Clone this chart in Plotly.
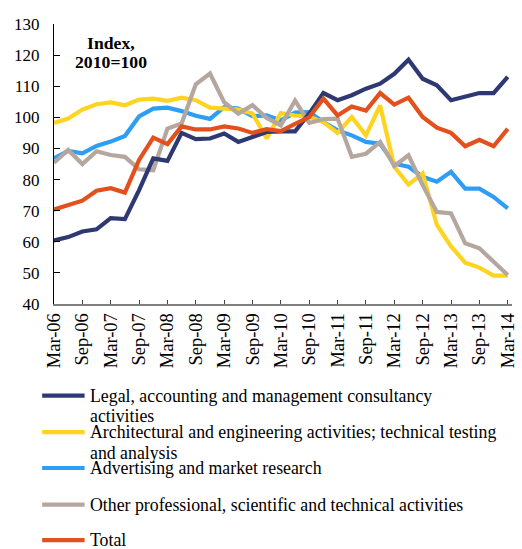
import plotly.graph_objects as go

quarters = [
    "Mar-06", "Jun-06", "Sep-06", "Dec-06", "Mar-07", "Jun-07", "Sep-07", "Dec-07",
    "Mar-08", "Jun-08", "Sep-08", "Dec-08", "Mar-09", "Jun-09", "Sep-09", "Dec-09",
    "Mar-10", "Jun-10", "Sep-10", "Dec-10", "Mar-11", "Jun-11", "Sep-11", "Dec-11",
    "Mar-12", "Jun-12", "Sep-12", "Dec-12", "Mar-13", "Jun-13", "Sep-13", "Dec-13",
    "Mar-14",
]
tick_labels = quarters[::2]

legal = [60.4, 61.5, 63.3, 64.0, 67.6, 67.3, 76.6, 86.8, 86.0, 95.0, 93.0, 93.2,
         94.8, 92.1, 93.7, 95.3, 95.5, 95.5, 101.2, 107.8, 105.5, 107.1, 109.2, 110.8,
         114.0, 118.5, 112.4, 110.3, 105.5, 106.8, 107.8, 107.8, 113.0]
architectural = [98.2, 99.6, 102.5, 104.2, 104.8, 103.9, 105.7, 106.0, 105.3, 106.3, 105.5, 103.1,
                 102.8, 102.5, 101.2, 93.2, 101.4, 100.6, 100.2, 98.5, 95.0, 100.1, 94.2, 103.8,
                 84.1, 78.4, 82.0, 65.4, 58.5, 53.3, 51.7, 49.1, 49.1]
advertising = [86.8, 89.2, 88.4, 90.8, 92.2, 94.0, 100.3, 102.8, 103.1, 102.0, 100.5, 99.5,
               103.3, 102.8, 100.4, 100.6, 99.0, 101.5, 101.7, 98.5, 95.8, 94.2, 92.1, 91.5,
               85.1, 84.1, 80.9, 79.3, 82.5, 77.1, 77.1, 74.4, 70.7]
other = [85.4, 89.5, 85.0, 89.1, 87.9, 87.3, 83.3, 83.0, 96.4, 98.0, 110.6, 114.1,
         104.9, 101.2, 103.9, 99.8, 97.4, 105.4, 98.2, 99.4, 99.6, 87.3, 88.3, 92.1,
         84.4, 87.8, 78.2, 69.6, 69.1, 59.5, 57.9, 53.6, 49.3]
total = [70.4, 71.8, 73.2, 76.4, 77.2, 75.8, 86.3, 93.5, 91.4, 97.1, 96.1, 96.1,
         97.1, 96.4, 95.0, 96.2, 95.6, 97.9, 100.1, 106.0, 100.6, 103.5, 102.2, 107.8,
         104.1, 106.3, 100.1, 96.7, 95.0, 90.7, 92.8, 90.7, 96.3]

series_lines = [
    ["Legal, accounting and management consultancy", "activities"],
    ["Architectural and engineering activities; technical testing", "and analysis"],
    ["Advertising and market research"],
    ["Other professional, scientific and technical activities"],
    ["Total"],
]
series_values = [legal, architectural, advertising, other, total]
colors = ["#2E3872", "#FFD420", "#2E9EF5", "#B5A79F", "#E4501B"]
draw_order = [2, 1, 3, 0, 4]

W, H = 522, 549
L, R, T, B = 54, 4, 23.5, 245
pw, ph = W - L - R, H - T - B

FONT = "Liberation Serif, Times New Roman, serif"

fig = go.Figure()
for k in draw_order:
    fig.add_trace(go.Scatter(
        x=quarters, y=series_values[k], mode="lines",
        name=" ".join(series_lines[k]),
        line=dict(color=colors[k], width=4.2),
        showlegend=False,
    ))

def px2paper_x(px):
    return (px - L) / pw

def px2paper_y(py):
    return (H - B - py) / ph

# manual legend laid out like the reference
legend_y_px = [395.7, 432.3, 468.3, 505.0, 540.5]
LINE_GAP = 20.5
shapes = []
annotations = []
for k, py in enumerate(legend_y_px):
    shapes.append(dict(type="line", xref="paper", yref="paper",
                       x0=px2paper_x(42), x1=px2paper_x(85),
                       y0=px2paper_y(py), y1=px2paper_y(py),
                       line=dict(color=colors[k], width=4.2)))
    for j, txt in enumerate(series_lines[k]):
        annotations.append(dict(
            xref="paper", yref="paper", x=px2paper_x(88), y=px2paper_y(py + j * LINE_GAP),
            xanchor="left", yanchor="middle", align="left", showarrow=False,
            text=txt, font=dict(family=FONT, size=17.8, color="black"),
        ))

for txt, py in [("<b>Index,</b>", 42.5), ("<b>2010=100</b>", 61.5)]:
    annotations.append(dict(
        xref="paper", yref="paper", x=px2paper_x(112), y=px2paper_y(py),
        xanchor="center", yanchor="middle", showarrow=False,
        text=txt, font=dict(family=FONT, size=17.7, color="black"),
    ))

fig.update_layout(
    width=W, height=H, autosize=False,
    margin=dict(l=L, r=R, t=T, b=B, pad=0),
    paper_bgcolor="white", plot_bgcolor="white",
    font=dict(family=FONT, color="black"),
    shapes=shapes, annotations=annotations,
    showlegend=False,
)
fig.update_xaxes(
    type="category", categoryorder="array", categoryarray=quarters,
    range=[0, 32.3], tickvals=tick_labels, ticktext=tick_labels,
    tickangle=-90, ticks="inside", ticklen=4, tickcolor="#444444",
    showline=True, linecolor="#808080", linewidth=1.5,
    showgrid=False, zeroline=False,
    tickfont=dict(family=FONT, size=18.5, color="black"),
)
fig.update_yaxes(
    range=[40, 130], dtick=10, tick0=40,
    ticks="inside", ticklen=6, tickcolor="black",
    showline=True, linecolor="black", linewidth=1.2,
    showgrid=False, zeroline=False,
    tickfont=dict(family=FONT, size=17, color="black"),
    ticklabelstandoff=10,
)

fig.write_html(
    "out.html",
    config={"displayModeBar": False},
    post_script="document.body.style.margin='0';document.body.style.overflow='hidden';",
)
